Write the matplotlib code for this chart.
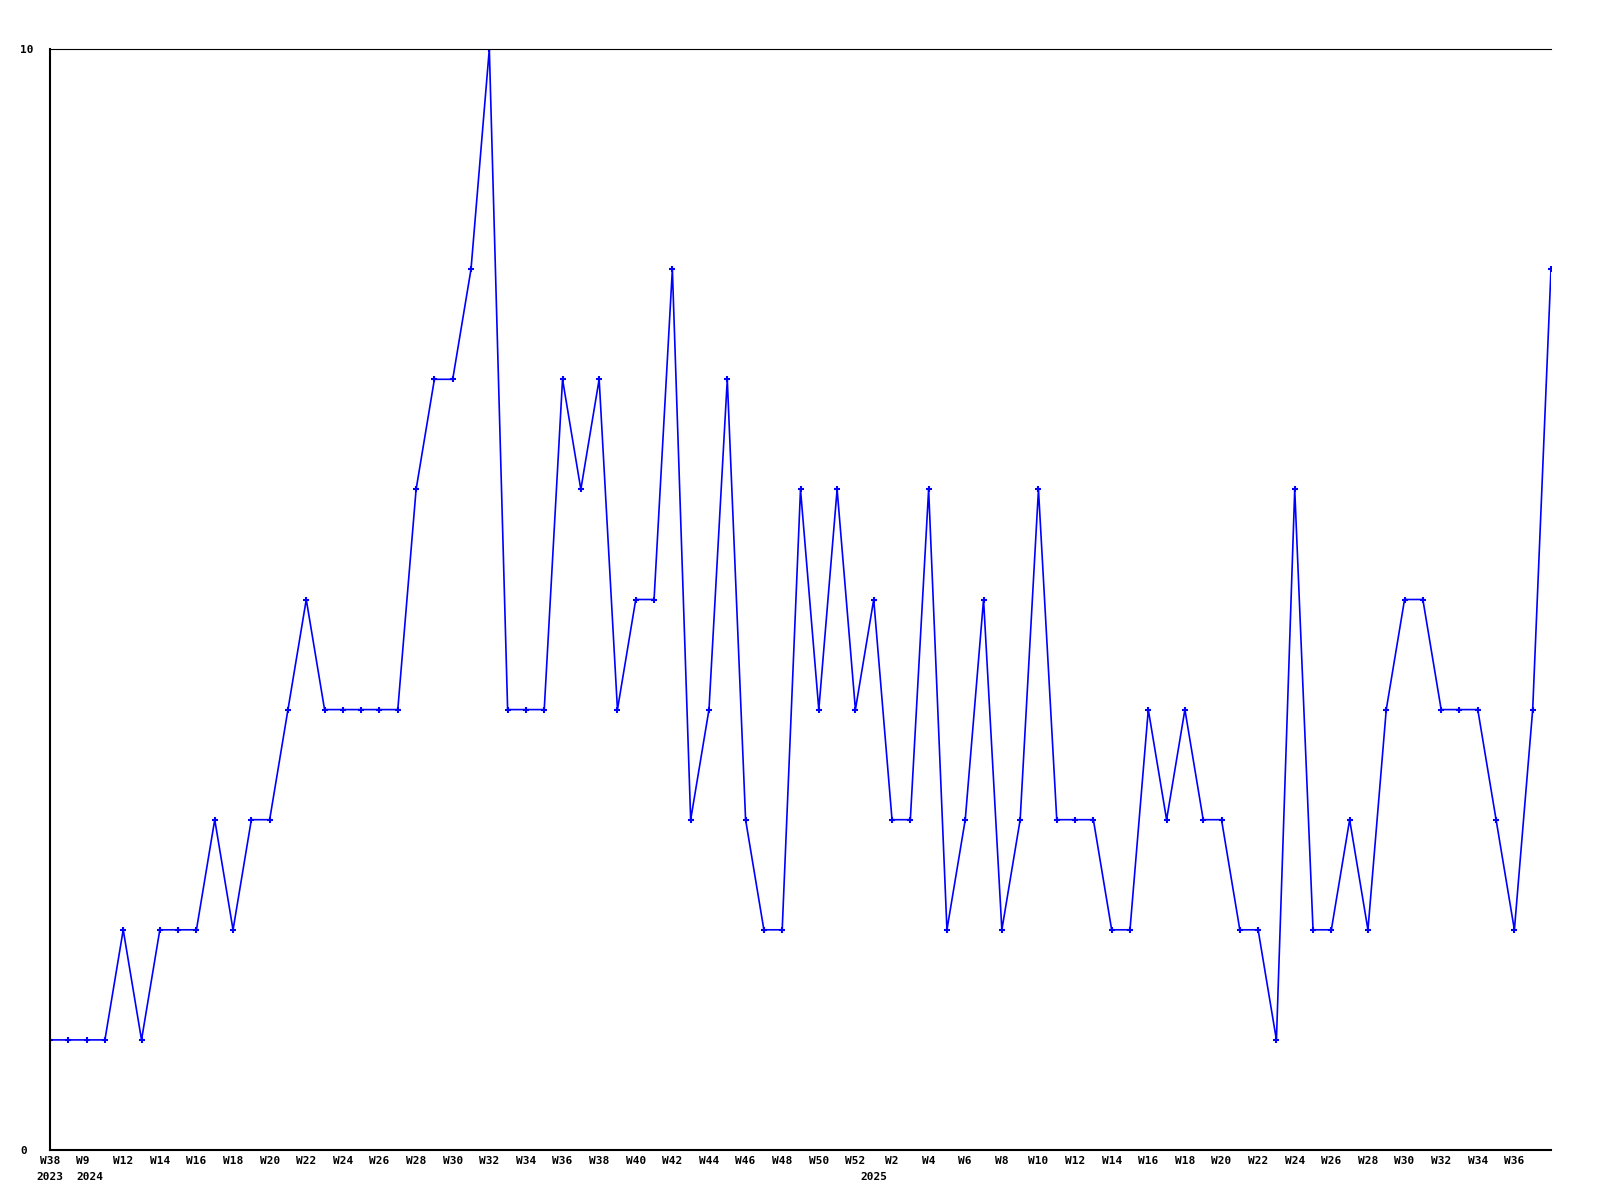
import numpy as np
import matplotlib.pyplot as plt
from matplotlib.transforms import ScaledTranslation

weeks = [38] + list(range(9, 53)) + list(range(1, 39))
years = [2023] + [2024] * 44 + [2025] * 38

values = [1, 1, 1, 1, 2, 1, 2, 2, 2, 3,
          2, 3, 3, 4, 5, 4, 4, 4, 4, 4,
          6, 7, 7, 8, 10, 4, 4, 4, 7, 6,
          7, 4, 5, 5, 8, 3, 4, 7, 3, 2,
          2, 6, 4, 6, 4, 5, 3, 3, 6, 2,
          3, 5, 2, 3, 6, 3, 3, 3, 2, 2,
          4, 3, 4, 3, 3, 2, 2, 1, 6, 2,
          2, 3, 2, 4, 5, 5, 4, 4, 4, 3,
          2, 4, 8]

y_ticks = [0, 10]


def week_ticks(weeks):
    # W38 2023, W9 2024, then every even week; skip the ones that would collide
    last = len(weeks) - 1
    out = []
    for i, w in enumerate(weeks):
        if i < 2 or (w % 2 == 0 and i not in (2, last)):
            out.append((i, f"W{w}"))
    return out


def year_starts(years):
    out = []
    prev = None
    for i, y in enumerate(years):
        if y != prev:
            out.append((i, str(y)))
        prev = y
    return out


if __name__ == "__main__":

    x = np.arange(len(values))
    font = dict(fontfamily="DejaVu Sans Mono", fontweight="bold", fontsize=8)

    fig = plt.figure(figsize=(16, 12), dpi=100)
    ax = fig.add_axes([50 / 1600, 1 - 1150 / 1200, 1501 / 1600, 1101 / 1200])

    ax.plot(x, values, color="#0000ff", linewidth=1.2,
            marker="+", markersize=5, markeredgewidth=1.5)

    ax.set_xlim(0, len(values) - 1)
    ax.set_ylim(0, 10)

    ticks = week_ticks(weeks)
    ax.set_xticks([t[0] for t in ticks])
    ax.set_xticklabels([t[1] for t in ticks], va="top", **font)
    ax.set_yticks(y_ticks)
    ax.set_yticklabels([str(v) for v in y_ticks], ha="left", **font)
    ax.tick_params(axis="x", length=0, pad=4)
    ax.tick_params(axis="y", length=0, pad=21.5)

    # W9 is pushed right so it does not hit W38
    lab = ax.get_xticklabels()[1]
    lab.set_horizontalalignment("left")
    lab.set_transform(lab.get_transform() + ScaledTranslation(8 / 100, 0, fig.dpi_scale_trans))

    for j, (i, ytxt) in enumerate(year_starts(years)):
        if j == 1:
            ax.annotate(ytxt, xy=(i, 0), xycoords=("data", "axes fraction"),
                        xytext=(8, -27), textcoords="offset pixels",
                        ha="left", va="center", **font)
        else:
            ax.annotate(ytxt, xy=(i, 0), xycoords=("data", "axes fraction"),
                        xytext=(0, -27), textcoords="offset pixels",
                        ha="center", va="center", **font)

    ax.spines["right"].set_visible(False)
    for s in ["left", "bottom"]:
        ax.spines[s].set_linewidth(1.5)
    ax.spines["top"].set_linewidth(0.8)

    fig.savefig("out.png", dpi=100)
